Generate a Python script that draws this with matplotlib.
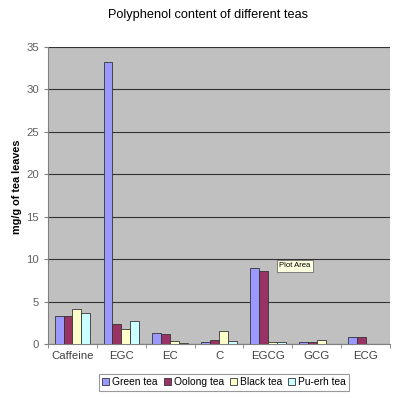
import numpy as np
import matplotlib.pyplot as plt

plt.rcParams['font.family'] = ['Liberation Sans', 'DejaVu Sans']

categories = ["Caffeine", "EGC", "EC", "C", "EGCG", "GCG", "ECG"]
green_tea = [3.3, 33.2, 1.3, 0.2, 8.9, 0.2, 0.85]
oolong_tea = [3.3, 2.35, 1.2, 0.5, 8.65, 0.2, 0.85]
black_tea = [4.1, 1.75, 0.3, 1.5, 0.2, 0.45, 0.0]
puerh_tea = [3.6, 2.65, 0.1, 0.3, 0.2, 0.0, 0.0]

series = [
    ("Green tea", green_tea, "#9999FF"),
    ("Oolong tea", oolong_tea, "#993366"),
    ("Black tea", black_tea, "#FFFFCC"),
    ("Pu-erh tea", puerh_tea, "#CCFFFF"),
]

fig = plt.figure(figsize=(4.0, 3.98), dpi=100)
ax = fig.add_axes([0.12, 0.1357, 0.855, 0.747])
ax.set_facecolor("#C0C0C0")

x = np.arange(len(categories))
w = 1 / 5.5
for i, (name, vals, col) in enumerate(series):
    ax.bar(x + (i - 1.5) * w, vals, width=w, color=col, edgecolor="#333333",
           linewidth=0.6, label=name, zorder=3)

ax.set_xlim(-0.5, len(categories) - 0.5)
ax.set_ylim(0, 35)
ax.set_yticks(range(0, 36, 5))
ax.yaxis.grid(True, color="#333333", linewidth=0.8, zorder=0)
ax.set_axisbelow(True)

ax.set_xticks(x)
ax.set_xticklabels(categories)
ax.set_xticks(np.arange(-0.5, len(categories), 1), minor=True)
ax.tick_params(axis="x", which="major", length=0, labelsize=8.2, pad=5,
               labelcolor="#404040")
ax.tick_params(axis="x", which="minor", length=3, color="#808080", direction="out")
ax.tick_params(axis="y", length=3, color="#808080", labelsize=8.2, direction="out",
               labelcolor="#606060")

for s in ["top", "right"]:
    ax.spines[s].set_visible(False)
ax.spines["left"].set_color("#808080")
ax.spines["bottom"].set_color("#808080")

ax.set_ylabel("mg/g of tea leaves", fontsize=7.8, fontweight="bold")
ax.yaxis.set_label_coords(-0.076, 0.53)
fig.text(0.52, 0.962, "Polyphenol content of different teas", ha="center",
         va="center", fontsize=9.2)

# Excel tooltip left in the screenshot
ax.text(4.55, 9.2, "Plot Area", fontsize=5.5, ha="center", va="center", zorder=5,
        bbox=dict(boxstyle="square,pad=0.3", fc="#FFFFE1", ec="#555555", lw=0.5))

leg = fig.legend(loc="center", bbox_to_anchor=(0.56, 0.039), ncol=4, fontsize=7.4,
                 frameon=True, fancybox=False, edgecolor="#808080",
                 handlelength=0.7, handleheight=0.7, handletextpad=0.3,
                 columnspacing=0.55, borderpad=0.3)
leg.get_frame().set_linewidth(0.8)

fig.savefig("out.png", dpi=100, facecolor="white")
